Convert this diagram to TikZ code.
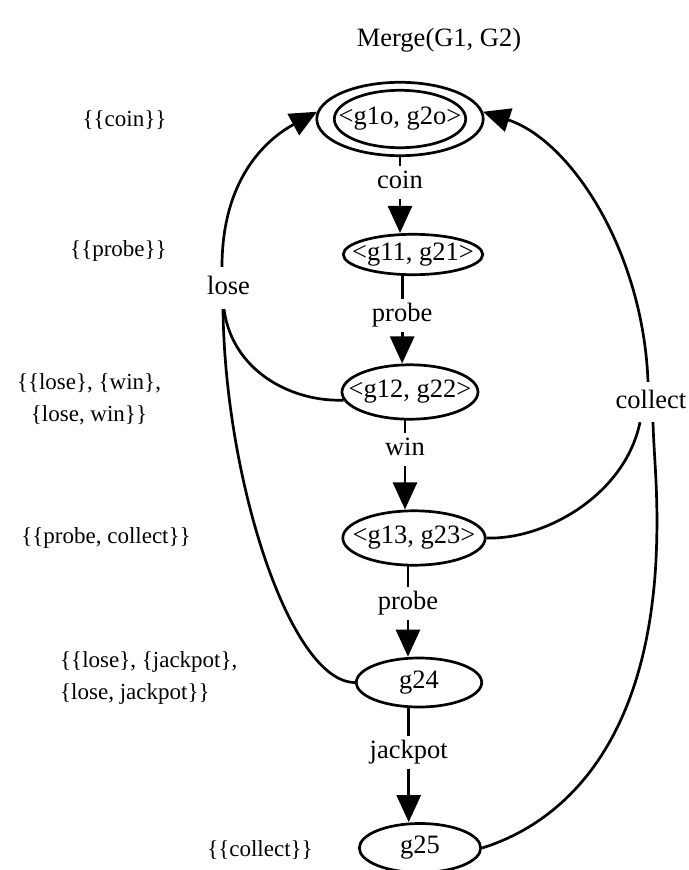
\documentclass[tikz,border=0pt]{standalone}
\usepackage{fontspec}
\setmainfont{Liberation Serif}
\usetikzlibrary{shapes.geometric, arrows.meta}

\newcommand{\statefont}{\fontsize{26.5}{32}\selectfont}
\newcommand{\refusalfont}{\fontsize{23}{32}\selectfont}

\tikzset{
  state/.style={ellipse, draw, line width=2.7pt, inner sep=0pt},
  statetext/.style={font=\statefont, inner sep=0pt},
  trans/.style={line width=2.7pt, -{Triangle[length=27pt, width=24pt]}},
  plain/.style={line width=2.7pt},
  translabel/.style={font=\statefont, fill=white, inner xsep=2pt, inner ysep=4.5pt, text height=18pt, text depth=6pt},
  refusal/.style={font=\refusalfont, inner sep=0pt}
}

\begin{document}
\begin{tikzpicture}[x=1pt, y=-1pt]
    \useasboundingbox (0,0) rectangle (688,870);

    % Title
    \node[font=\statefont, anchor=base] (title) at (439,46) {Merge(G1, G2)};

    % States
    \node[state, minimum width=166.4pt, minimum height=73.4pt, label={[statetext]center:{<g1o, g2o>}}] (s0) at (400,119) {};
    \draw[line width=2.7pt] (s0.center) ellipse [x radius=65.7pt, y radius=28.7pt];  % inner ring
    \node[state, minimum width=139.4pt, minimum height=40.4pt, label={[statetext]center:{<g11, g21>}}] (s1) at (413,254.5) {};
    \node[state, minimum width=136pt, minimum height=54.4pt, label={[statetext]center:{<g12, g22>}}] (s2) at (410,392) {};
    \node[state, minimum width=142.4pt, minimum height=54.4pt, label={[statetext]center:{<g13, g23>}}] (s3) at (414,538) {};
    \node[state, minimum width=125.4pt, minimum height=49pt, label={[statetext]center:{g24}}] (s4) at (419,682.5) {};
    \node[state, minimum width=121.4pt, minimum height=49pt, label={[statetext]center:{g25}}] (s5) at (420,848) {};

    % Forward transitions
    \draw[trans] (s0.south) -- (s0.south |- s1.north) node[translabel, pos=0.34] {coin};
    \draw[trans] (s1.243) -- (s1.243 |- s2.north) node[translabel, pos=0.45] {probe};
    \draw[trans] (s2.260) -- (s2.260 |- s3.north) node[translabel, pos=0.33] {win};
    \draw[trans] (s3.258) -- (s3.258 |- s4.north) node[translabel, pos=0.41] {probe};
    \draw[trans] (s4.248) -- (s4.248 |- s5.north) node[translabel, pos=0.39] {jackpot};

    % lose: back to the start
    \node[translabel, inner ysep=9pt] (lose) at (228.5,288) {lose};
    \draw[plain] (s2.187) .. controls (290,402) and (232,370) .. ([xshift=-4.5pt]lose.south);
    \draw[plain] (s4.west) .. controls (290,682) and (225,480) .. ([xshift=-5.5pt]lose.south);
    \draw[trans] ([xshift=-6.5pt]lose.north) .. controls (222,180) and (265,140) .. (s0.175);

    % collect: back to the start
    \node[translabel, inner ysep=8pt] (collect) at (651,402) {collect};
    \draw[plain] (s3.east) .. controls (545,540) and (625,495) .. ([xshift=-11pt]collect.south);
    \draw[plain] (s5.east) .. controls (540,830) and (645,770) .. (656,560)
        .. controls (659,497) and (654,460) .. ([xshift=2pt]collect.south);
    \draw[trans] ([xshift=-3pt]collect.north) .. controls (643,250) and (570,140) .. (s0.5);

    % Refusal sets
    \node[refusal, anchor=base] (r0) at (124.5,126) {\{\{coin\}\}};
    \node[refusal, anchor=base] (r1) at (118.5,256) {\{\{probe\}\}};
    \node[refusal, align=center] (r2) at (89,399) {\{\{lose\}, \{win\},\\\{lose, win\}\}};
    \node[refusal, anchor=base] (r3) at (106,543) {\{\{probe, collect\}\}};
    \node[refusal, align=left, anchor=west] (r4) at (60,678) {\{\{lose\}, \{jackpot\},\\\{lose, jackpot\}\}};
    \node[refusal, anchor=base] (r5) at (260,856) {\{\{collect\}\}};
\end{tikzpicture}
\end{document}
